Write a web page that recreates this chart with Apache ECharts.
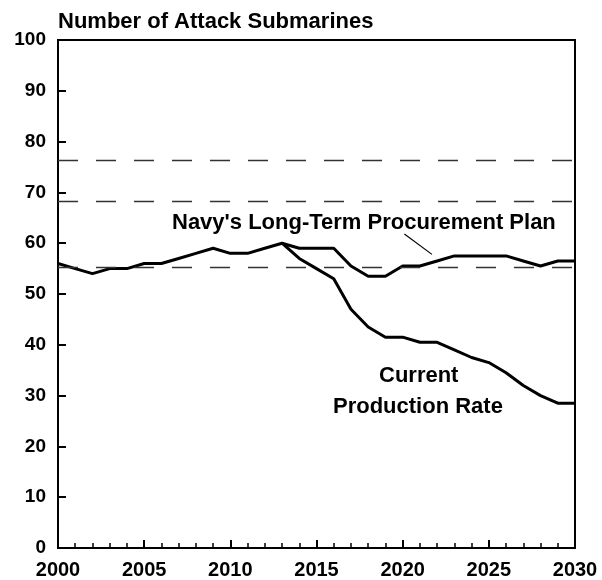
<!DOCTYPE html>
<html>
<head>
<meta charset="utf-8">
<script src="https://cdn.jsdelivr.net/npm/echarts@6/dist/echarts.min.js"></script>
<style>
  html, body { margin: 0; padding: 0; background: #fff; }
  #chart { width: 602px; height: 580px; }
</style>
</head>
<body>
<div id="chart"></div>
<script>
  var years = [];
  for (var y = 2000; y <= 2030; y++) years.push(y);

  var planValues = [56, 55, 54, 55, 55, 56, 56, 57, 58, 59, 58, 58, 59, 60, 59, 59, 59,
    55.5, 53.5, 53.5, 55.5, 55.5, 56.5, 57.5, 57.5, 57.5, 57.5, 56.5, 55.5, 56.5, 56.5];
  var currentValues = [null, null, null, null, null, null, null, null, null, null, null, null, null, 60,
    57, 55, 53, 47, 43.5, 41.5, 41.5, 40.5, 40.5, 39, 37.5, 36.5, 34.5, 32, 30, 28.5, 28.5];
  var forceLevels = [76.3, 68.2, 55.3];
  var leaderLine = [[2020.1, 61.8], [2021.7, 57.8]];

  function pairs(vals) {
    return years.map(function (yr, i) { return [yr, vals[i]]; });
  }

  var font = 'Liberation Sans, Arial, sans-serif';
  var chart = echarts.init(document.getElementById('chart'));

  var option = {
    animation: false,
    grid: {
      left: 58, right: 27, top: 40, bottom: 30,
      show: true, borderColor: '#000', borderWidth: 2
    },
    xAxis: {
      type: 'value',
      min: 2000, max: 2030, interval: 5,
      axisLine: { lineStyle: { color: '#000', width: 2 } },
      axisTick: { inside: true, length: 8, lineStyle: { color: '#000', width: 2 } },
      minorTick: { show: true, splitNumber: 5, length: 5, lineStyle: { color: '#000', width: 1.5 } },
      splitLine: { show: false },
      axisLabel: {
        color: '#000', fontFamily: font, fontWeight: 'bold', fontSize: 20, margin: 12,
        formatter: function (v) { return String(v); }
      }
    },
    yAxis: {
      type: 'value',
      min: 0, max: 100, interval: 10,
      axisLine: { show: true, lineStyle: { color: '#000', width: 2 } },
      axisTick: { show: true, inside: true, length: 8, lineStyle: { color: '#000', width: 2 } },
      splitLine: { show: false },
      axisLabel: { color: '#000', fontFamily: font, fontWeight: 'bold', fontSize: 19, margin: 12 }
    },
    graphic: [
      { type: 'text', left: 58, top: 11,
        style: { text: 'Number of Attack Submarines', fill: '#000', font: 'bold 22px ' + font } },
      { type: 'text', left: 172, top: 212,
        style: { text: "Navy's Long-Term Procurement Plan", fill: '#000', font: 'bold 22px ' + font } },
      { type: 'text', left: 379, top: 365,
        style: { text: 'Current', fill: '#000', font: 'bold 22px ' + font } },
      { type: 'text', left: 333, top: 396,
        style: { text: 'Production Rate', fill: '#000', font: 'bold 22px ' + font } }
    ],
    series: [
      {
        name: 'Plan',
        type: 'line',
        data: pairs(planValues),
        symbol: 'none',
        lineStyle: { color: '#000', width: 3 },
        markLine: {
          silent: true,
          symbol: 'none',
          label: { show: false },
          data: forceLevels.map(function (v) {
            return { yAxis: v, lineStyle: { color: '#333', width: 1.3, type: [20, 18] } };
          }).concat([[
            { coord: leaderLine[0], lineStyle: { color: '#000', width: 1.2, type: 'solid' } },
            { coord: leaderLine[1] }
          ]])
        }
      },
      {
        name: 'Current',
        type: 'line',
        data: pairs(currentValues),
        symbol: 'none',
        lineStyle: { color: '#000', width: 3 }
      }
    ]
  };

  chart.setOption(option);
</script>
</body>
</html>
